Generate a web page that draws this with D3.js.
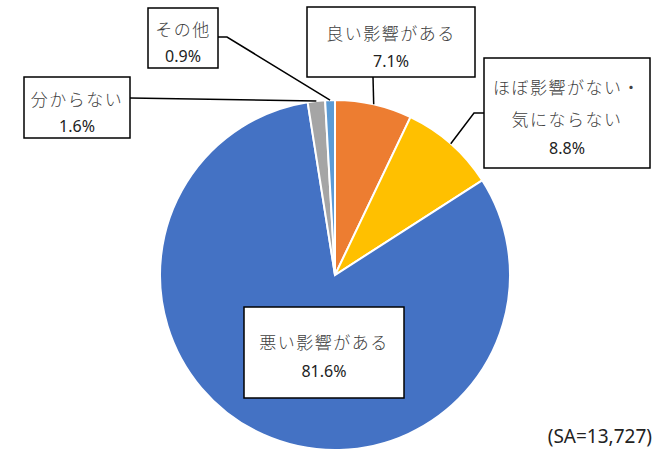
<!DOCTYPE html>
<html>
<head>
<meta charset="utf-8">
<script src="https://cdn.jsdelivr.net/npm/d3@7"></script>
<style>
  body { margin: 0; background: #fff; }
  .lbl { font-family: "Noto Sans CJK JP", sans-serif; font-weight: 300; font-size: 17px; fill: #404040; letter-spacing: 1.5px; }
  .pct { font-family: "Noto Sans", "Open Sans", sans-serif; font-size: 16px; fill: #222; }
</style>
</head>
<body>
<div id="chart"></div>
<script>
// data
var categories = ["良い影響がある", "ほぼ影響がない・気にならない", "悪い影響がある", "分からない", "その他"];
var values = [7.1, 8.8, 81.6, 1.6, 0.9];
var colors = ["#ED7D31", "#FFC000", "#4472C4", "#A5A5A5", "#5B9BD5"];
var sampleNote = "(SA=13,727)";

// label layout: box, text lines, leader elbow
var boxes = [
  {x: 307, y: 7, w: 168, h: 70, lines: ["良い影響がある"], ty: [32], py: 61, anchor: [373, 77], elbow: null},
  {x: 484, y: 58, w: 166, h: 110, lines: ["ほぼ影響がない・", "気にならない"], ty: [86, 118], py: 148, anchor: [484, 113], elbow: [474, 113]},
  {x: 244, y: 307, w: 160, h: 91, lines: ["悪い影響がある"], ty: [341], py: 371, anchor: null, elbow: null},
  {x: 24, y: 77, w: 106, h: 61, lines: ["分からない"], ty: [98], py: 126, anchor: [130, 98], elbow: null},
  {x: 148, y: 8, w: 70, h: 60, lines: ["その他"], ty: [28], py: 56, anchor: [218, 37], elbow: [227, 37]}
];

var svgWidth = 657;
var svgHeight = 461;
var cx = 335, cy = 275, radius = 175;

var svg = d3.select("#chart")
  .append("svg")
  .attr("width", svgWidth)
  .attr("height", svgHeight);

var pie = d3.pie().sort(null).value(d => d);
var arcs = pie(values);

var arc = d3.arc().innerRadius(0).outerRadius(radius);

var pieGroup = svg.append("g")
  .attr("transform", `translate(${cx}, ${cy})`);

pieGroup.selectAll("path")
  .data(arcs)
  .enter()
  .append("path")
  .attr("d", arc)
  .attr("fill", (d, i) => colors[i])
  .attr("stroke", "#fff")
  .attr("stroke-width", 2);

// leader lines
arcs.forEach(function(d, i) {
  var b = boxes[i];
  if (!b.anchor) return;
  var mid = (d.startAngle + d.endAngle) / 2;
  var px = cx + radius * Math.sin(mid);
  var py = cy - radius * Math.cos(mid);
  var pts = [b.anchor];
  if (b.elbow) pts.push(b.elbow);
  pts.push([px, py]);
  svg.append("path")
    .attr("d", d3.line()(pts))
    .attr("fill", "none")
    .attr("stroke", "#000")
    .attr("stroke-width", 1.5);
});

// label boxes
boxes.forEach(function(b, i) {
  var g = svg.append("g");
  g.append("rect")
    .attr("x", b.x)
    .attr("y", b.y)
    .attr("width", b.w)
    .attr("height", b.h)
    .attr("fill", "#fff")
    .attr("stroke", "#000")
    .attr("stroke-width", 1.5);
  b.lines.forEach(function(t, j) {
    g.append("text")
      .attr("class", "lbl")
      .attr("x", b.x + b.w / 2)
      .attr("y", b.ty[j])
      .attr("text-anchor", "middle")
      .attr("dominant-baseline", "central")
      .text(t);
  });
  g.append("text")
    .attr("class", "pct")
    .attr("x", b.x + b.w / 2)
    .attr("y", b.py)
    .attr("text-anchor", "middle")
    .attr("dominant-baseline", "central")
    .text(values[i].toFixed(1) + "%");
});

svg.append("text")
  .attr("class", "pct")
  .attr("x", 652)
  .attr("y", 436)
  .attr("text-anchor", "end")
  .attr("dominant-baseline", "central")
  .style("font-size", "19px")
  .text(sampleNote);
</script>
</body>
</html>
